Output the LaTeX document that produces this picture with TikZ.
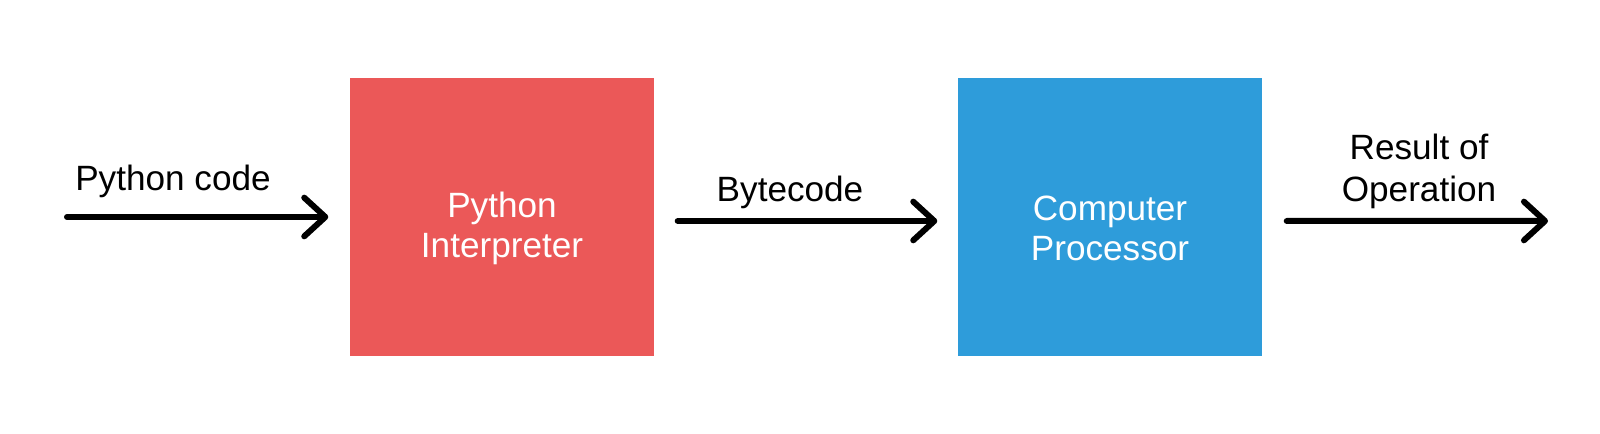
\documentclass[tikz,border=0pt]{standalone}
\usepackage{fontspec}
\setmainfont{Liberation Sans}
\usetikzlibrary{arrows.meta}
\definecolor{pyred}{RGB}{235,88,88}
\definecolor{cpublue}{RGB}{46,156,218}
\begin{document}
\begin{tikzpicture}[
    stage/.style={minimum width=3.04cm, minimum height=2.78cm, inner sep=0pt},
    stagetext/.style={text=white, align=center, font=\fontsize{10}{11.4}\selectfont},
    flowlabel/.style={align=center, inner sep=0pt, font=\fontsize{10}{12}\selectfont},
    flow/.style={line width=1.7pt, line cap=round, -{Straight Barb[length=6pt,width=11pt,round]}}]
\useasboundingbox (0,0) rectangle (16,4.34);

\node (interp) at (5.02,2.17) [stage, fill=pyred] {};
\node (proc) at (11.10,2.17) [stage, fill=cpublue] {};
\node at ([yshift=-1.1mm]interp.center) [stagetext] {Python\\Interpreter};
\node at ([yshift=-1.1mm]proc.center) [stagetext] {Computer\\Processor};

\coordinate (codein) at (0.67,2.17);
\coordinate (resout) at (15.48,2.13);

\draw[flow, shorten >=0.21cm] (codein)--(interp.west);
\draw[flow, shorten <=0.23cm, shorten >=0.20cm] ([yshift=-0.4mm]interp.east)--([yshift=-0.4mm]proc.west);
\draw[flow, shorten <=0.24cm] ([yshift=-0.4mm]proc.east)--(resout);

\node (codelbl) at (1.73,2.43) [flowlabel, anchor=base] {Python code};
\node (bytelbl) at (7.90,2.32) [flowlabel, anchor=base] {Bytecode};
\node (reslbl) at (14.19,2.24) [flowlabel, anchor=south] {Result of\\Operation};

\end{tikzpicture}
\end{document}
